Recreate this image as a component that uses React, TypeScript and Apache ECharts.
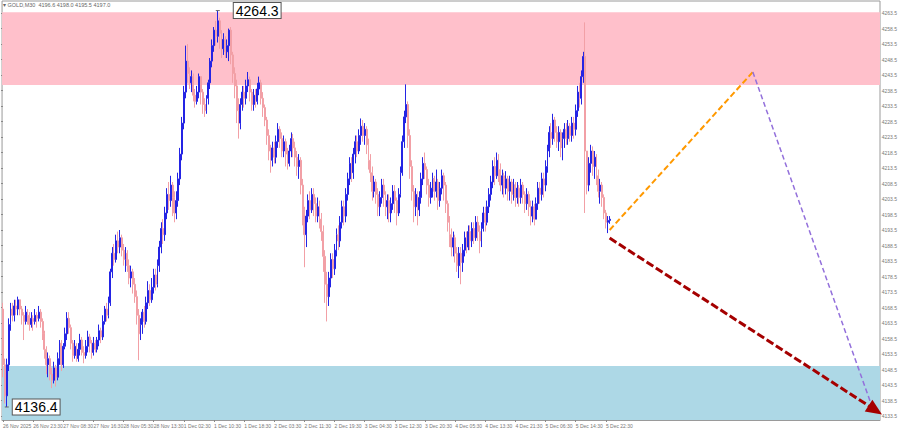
import React, { useEffect, useRef } from 'react';
import * as echarts from 'echarts';

// ---- data (GOLD, M30) ----
const firstOpen = 4168;
const closes = [
  4150, 4140, 4150, 4163, 4168, 4166, 4169, 4168, 4171, 4168,
  4166, 4164, 4167, 4166, 4163, 4165, 4164, 4166, 4165, 4167,
  4164, 4160, 4155, 4150, 4152, 4147, 4145, 4149, 4146, 4152,
  4157, 4150, 4156, 4160, 4165, 4162, 4157, 4153, 4156, 4152,
  4155, 4158, 4154, 4153, 4156, 4159, 4157, 4154, 4157, 4155,
  4158, 4161, 4159, 4164, 4168, 4166, 4170, 4180, 4186, 4184,
  4190, 4188, 4191, 4187, 4184, 4186, 4182, 4178, 4180, 4176,
  4172, 4166, 4160, 4163, 4167, 4164, 4170, 4174, 4171, 4175,
  4179, 4176, 4182, 4188, 4194, 4192, 4199, 4205, 4203, 4208,
  4204, 4199, 4203, 4210, 4218, 4228, 4238, 4248, 4244, 4241,
  4243, 4237, 4235, 4238, 4243, 4238, 4234, 4232, 4236, 4241,
  4248, 4253, 4258, 4256, 4261, 4257, 4252, 4255, 4251, 4253,
  4258, 4250, 4244, 4240, 4232, 4228, 4234, 4238, 4236, 4240,
  4242, 4238, 4234, 4237, 4235, 4239, 4241, 4236, 4233, 4229,
  4224, 4219, 4216, 4220, 4217, 4222, 4226, 4223, 4219, 4222,
  4218, 4215, 4219, 4223, 4220, 4217, 4214, 4216, 4208, 4200,
  4192, 4198, 4203, 4200, 4205, 4202, 4198, 4201, 4197, 4193,
  4185, 4176, 4172, 4178, 4184, 4181, 4187, 4192, 4190, 4196,
  4201, 4198, 4205, 4210, 4215, 4212, 4218, 4222, 4219, 4224,
  4227, 4224, 4226, 4221, 4216, 4212, 4206, 4209, 4205, 4201,
  4204, 4208, 4205, 4201, 4203, 4199, 4202, 4206, 4203, 4199,
  4205, 4212, 4222, 4230, 4234, 4224, 4214, 4206, 4201, 4205,
  4200, 4204, 4210, 4215, 4213, 4208, 4204, 4207, 4210, 4206,
  4209, 4203, 4207, 4211, 4208, 4202, 4196, 4192, 4188, 4191,
  4186, 4182, 4186, 4183, 4187, 4191, 4188, 4193, 4190, 4194,
  4191, 4196, 4193, 4190, 4194, 4199, 4196, 4201, 4205, 4209,
  4214, 4211, 4216, 4213, 4208, 4211, 4207, 4210, 4206, 4209,
  4205, 4208, 4204, 4207, 4204, 4208, 4205, 4202, 4205, 4201,
  4198, 4201, 4197, 4202, 4207, 4205, 4210, 4208, 4214, 4219,
  4225, 4223, 4229, 4225, 4222, 4225, 4220, 4223, 4226, 4223,
  4227, 4224, 4228, 4226, 4232, 4238, 4236, 4243, 4249.5, 4219,
  4208, 4215, 4219, 4214, 4217, 4211, 4206, 4208, 4204, 4199,
  4196, 4196.6, 4197.0,
];
const highs = [
  4170, 4152, 4152, 4165, 4170, 4170, 4171, 4171, 4172, 4171,
  4169, 4167, 4169, 4168, 4167, 4167, 4166, 4168, 4167, 4169,
  4168, 4165, 4161, 4156, 4154, 4153, 4149, 4151, 4150, 4154,
  4158, 4158, 4157, 4162, 4167, 4167, 4163, 4158, 4158, 4157,
  4157, 4160, 4159, 4156, 4158, 4161, 4160, 4158, 4159, 4158,
  4159, 4163, 4162, 4166, 4169, 4170, 4172, 4181, 4188, 4189,
  4192, 4193, 4193.5, 4192, 4189, 4188, 4187, 4184, 4182, 4181,
  4178, 4174, 4168, 4165, 4168, 4169, 4172, 4177, 4176, 4178,
  4181, 4181, 4184, 4190, 4196, 4197, 4201, 4207, 4209, 4211,
  4209, 4206, 4206, 4212, 4220, 4230, 4240, 4253, 4253.5, 4246,
  4245, 4244, 4239, 4240, 4244, 4243, 4239, 4236, 4237, 4242,
  4249, 4255, 4259, 4261, 4264.3, 4262, 4258, 4257, 4256, 4255,
  4258.5, 4259, 4251, 4246, 4242, 4236, 4236, 4240, 4240, 4242,
  4244.5, 4243, 4239, 4239, 4239, 4241, 4243, 4242, 4238, 4234,
  4230, 4226, 4221, 4222, 4222, 4224, 4228, 4227, 4225, 4224,
  4223, 4220, 4221, 4225, 4224.5, 4222, 4219, 4218, 4217, 4210,
  4201, 4200, 4205, 4206, 4207, 4207, 4204, 4204, 4203, 4199,
  4195, 4187, 4180, 4180, 4186, 4186, 4189, 4194, 4195, 4198,
  4203, 4203, 4207, 4212, 4217, 4217, 4220, 4224, 4224, 4226,
  4229.5, 4229, 4228, 4227, 4223, 4218, 4214, 4211, 4210, 4207,
  4206, 4210, 4210, 4206, 4205, 4205, 4204, 4208, 4208, 4204,
  4207, 4214, 4224, 4232, 4240.5, 4235, 4226, 4216, 4208, 4207,
  4206, 4206, 4212, 4217, 4218.5, 4214, 4210, 4209, 4212, 4211,
  4213, 4210, 4209, 4213, 4212, 4209, 4203, 4198, 4194, 4193,
  4192, 4188, 4188, 4188, 4189, 4193, 4193, 4195, 4195, 4196,
  4196, 4198, 4198, 4195, 4196, 4201, 4201, 4203, 4207, 4211,
  4216, 4217, 4218.5, 4218, 4215, 4213, 4212, 4212.5, 4211, 4211,
  4210, 4210, 4209, 4209, 4208, 4210, 4209, 4206, 4207, 4206,
  4203, 4203, 4202, 4204, 4209, 4209, 4212, 4212, 4216, 4221,
  4227, 4228, 4231, 4230, 4227, 4227, 4226, 4225, 4228, 4228,
  4229, 4228, 4230, 4230, 4234, 4240, 4241, 4245, 4251, 4260.5,
  4218, 4217, 4221, 4220.5, 4219, 4218, 4213, 4210, 4209, 4205,
  4200, 4198, 4198.0,
];
const lows = [
  4146, 4137.5, 4136.4, 4148, 4161, 4164, 4164, 4166, 4166, 4166,
  4163, 4158, 4163, 4163, 4161, 4162, 4161, 4163, 4162, 4164,
  4162, 4158, 4152, 4147, 4146, 4145, 4142.5, 4144, 4143, 4145,
  4150, 4148, 4149, 4155, 4158, 4160, 4155, 4151, 4152, 4151,
  4151, 4153, 4153, 4150.5, 4152, 4154, 4154, 4152, 4153, 4154,
  4154, 4156, 4157, 4158, 4163, 4164, 4165, 4169, 4178, 4182,
  4183, 4186, 4186, 4185, 4182, 4180, 4180, 4176, 4175, 4173,
  4170, 4163, 4151.5, 4158, 4160, 4162, 4163, 4168, 4169, 4170,
  4173, 4174, 4175, 4180, 4186, 4189, 4190, 4197, 4200, 4201,
  4198, 4196, 4197, 4201, 4208, 4216, 4226, 4236, 4241, 4239,
  4238, 4235, 4233, 4234, 4236, 4234, 4231, 4230, 4231, 4234,
  4239, 4246, 4251, 4253, 4254, 4252, 4249, 4250, 4249, 4249,
  4248, 4247, 4241, 4236, 4228, 4223, 4226, 4232, 4233, 4234,
  4238, 4235, 4232, 4232, 4233, 4234, 4237, 4234, 4230, 4227,
  4221, 4216, 4212, 4214, 4215, 4215, 4220, 4220, 4217, 4217,
  4214, 4213, 4214, 4217, 4217, 4214, 4211, 4210, 4205, 4195,
  4181.5, 4188, 4196, 4197, 4199, 4198, 4196, 4196, 4194, 4190,
  4180, 4170, 4164, 4169, 4175, 4178, 4179, 4185, 4187, 4188,
  4194, 4195, 4196, 4203, 4208, 4209, 4210, 4215, 4217, 4218,
  4221, 4222, 4221, 4218, 4213, 4209, 4203, 4204, 4202, 4198,
  4198, 4202, 4201, 4198, 4197, 4196, 4196, 4200, 4199, 4195,
  4198, 4204, 4211, 4220, 4228, 4220, 4210, 4203, 4196, 4198,
  4195, 4198, 4202, 4208, 4210, 4205, 4201, 4202, 4204, 4203,
  4204, 4200, 4201, 4205, 4203, 4199, 4193, 4188, 4185, 4185,
  4183, 4180, 4178, 4176, 4180, 4185, 4186, 4187, 4187, 4188,
  4189, 4190, 4190, 4186, 4188, 4193, 4193, 4195, 4199, 4203,
  4207, 4208, 4210, 4209, 4206, 4205, 4204, 4205, 4203, 4203,
  4202, 4203, 4201, 4202, 4201, 4202, 4202, 4199, 4200, 4198,
  4195, 4196, 4195, 4197, 4200, 4202, 4203, 4204, 4206, 4212,
  4217, 4220, 4221, 4222, 4220, 4219, 4217, 4216, 4220, 4221,
  4221, 4222, 4222, 4223, 4224, 4230, 4233, 4234, 4241, 4199,
  4205, 4206, 4212, 4211, 4210, 4208, 4204, 4202, 4201, 4197,
  4194, 4192.5, 4195.5,
];
const timeLabels = [
  '26 Nov 2025', '26 Nov 23:30', '27 Nov 08:30', '27 Nov 16:30', '28 Nov 05:30',
  '28 Nov 13:30', '1 Dec 02:30', '1 Dec 10:30', '1 Dec 18:30', '2 Dec 03:30',
  '2 Dec 11:30', '2 Dec 19:30', '3 Dec 04:30', '3 Dec 12:30', '3 Dec 20:30',
  '4 Dec 05:30', '4 Dec 13:30', '4 Dec 21:30', '5 Dec 06:30', '5 Dec 14:30',
  '5 Dec 22:30',
];
const labelStep = 16;
const totalSlots = 466;
const priceMin = 4132.2;
const priceMax = 4267.4;
const tickMin = 4133.5;
const tickMax = 4263.5;
const tickStep = 5;
const resistanceZone = [4263.8, 4240.3];
const supportZone = [4149.6, 4132.2];
const highMark = { index: 114, price: 4264.3 };
const lowMark = { index: 2, price: 4136.4 };
const orangePath = [[322, 4193.5], [398, 4244.5]];
const purplePath = [[398, 4244.5], [461, 4137.0]];
const redPath = [[322, 4190.9], [463, 4135.4]];

const BULL = '#2424E4';
const BEAR = '#F2A0A6';
const FONT = 'Liberation Sans, Arial, sans-serif';

function buildOption() {
  const categories = Array.from({ length: totalSlots }, (_, i) => String(i));
  const candles = closes.map((c, i) => {
    const o = i === 0 ? firstOpen : closes[i - 1];
    return [o, c, lows[i], highs[i]];
  });
  const last = candles[candles.length - 1];
  const titleText = `\u25BE GOLD,M30  ${last[0].toFixed(1)} ${last[3].toFixed(1)} ${last[2].toFixed(1)} ${last[1].toFixed(1)}`;
  const isLabelIdx = (i: number) => i % labelStep === 0 && i / labelStep < timeLabels.length;

  const boxLabel = (text: string, distance: number) => ({
    show: true,
    position: 'right',
    distance,
    formatter: text,
    fontSize: 14,
    fontFamily: FONT,
    color: '#000',
    backgroundColor: '#fff',
    borderColor: '#555',
    borderWidth: 1,
    padding: [1, 2, 0, 2],
  });

  return {
    animation: false,
    backgroundColor: '#ffffff',
    graphic: [
      {
        type: 'text',
        left: 3,
        top: 2,
        z: 10,
        style: { text: titleText, fontSize: 5.5, fill: '#666', fontFamily: FONT },
      },
    ],
    grid: [
      { left: 1, right: 20, top: 1, bottom: 10, show: true, borderColor: '#9a9a9a', borderWidth: 1 },
      { left: 1, right: 20, top: 13, bottom: 14, show: false },
    ],
    xAxis: [
      {
        type: 'category',
        gridIndex: 0,
        data: categories,
        boundaryGap: true,
        axisLine: { show: true, lineStyle: { color: '#9a9a9a' } },
        axisTick: {
          show: true,
          alignWithLabel: true,
          interval: (i: number) => isLabelIdx(i),
          length: 2,
          lineStyle: { color: '#888' },
        },
        axisLabel: {
          show: true,
          showMinLabel: true,
          interval: (i: number) => isLabelIdx(i),
          formatter: (_v: string, i: number) => (isLabelIdx(i) ? timeLabels[i / labelStep] : ''),
          fontSize: 5,
          fontFamily: FONT,
          color: '#777',
          align: 'left',
          margin: 3,
        },
        splitLine: { show: false },
      },
      { type: 'value', gridIndex: 1, show: false, min: 0, max: 1 },
    ],
    yAxis: [
      {
        type: 'value',
        gridIndex: 0,
        position: 'right',
        min: priceMin,
        max: priceMax,
        axisLabel: { show: false },
        axisTick: { show: false },
        axisLine: { show: false },
        splitLine: { show: false },
      },
      {
        type: 'value',
        gridIndex: 1,
        position: 'right',
        min: tickMin,
        max: tickMax,
        interval: tickStep,
        axisLine: { show: false },
        axisTick: { show: true, length: 2, lineStyle: { color: '#888' } },
        axisLabel: {
          fontSize: 5,
          fontFamily: FONT,
          color: '#777',
          margin: 3,
          formatter: (v: number) => v.toFixed(1),
        },
        splitLine: { show: false },
      },
    ],
    series: [
      {
        type: 'line',
        xAxisIndex: 0,
        yAxisIndex: 0,
        data: [],
        z: 1,
        silent: true,
        markArea: {
          silent: true,
          data: [
            [{ yAxis: resistanceZone[0], itemStyle: { color: '#FFC0CB' } }, { yAxis: resistanceZone[1] }],
            [{ yAxis: supportZone[0], itemStyle: { color: '#ADD8E6' } }, { yAxis: supportZone[1] }],
          ],
        },
      },
      {
        type: 'candlestick',
        xAxisIndex: 0,
        yAxisIndex: 0,
        data: candles,
        z: 3,
        barWidth: 1.4,
        clip: false,
        itemStyle: {
          color: BULL,
          color0: BEAR,
          borderColor: BULL,
          borderColor0: BEAR,
          borderWidth: 1,
        },
        markPoint: {
          silent: true,
          symbol: 'rect',
          symbolSize: [4, 1],
          itemStyle: { color: '#666' },
          data: [
            { coord: [highMark.index, highMark.price], label: boxLabel(highMark.price.toFixed(1), 14) },
            { coord: [lowMark.index, lowMark.price], label: boxLabel(lowMark.price.toFixed(1), 4) },
          ],
        },
      },
      {
        type: 'line',
        xAxisIndex: 0,
        yAxisIndex: 0,
        data: [],
        z: 5,
        silent: true,
        markLine: {
          silent: true,
          symbol: ['none', 'none'],
          label: { show: false },
          data: [
            [
              { coord: orangePath[0], lineStyle: { color: '#FF9900', width: 2, type: [6, 3] } },
              { coord: orangePath[1] },
            ],
            [
              { coord: purplePath[0], lineStyle: { color: '#9370DB', width: 1.5, type: [5, 3] } },
              { coord: purplePath[1] },
            ],
            [
              { coord: redPath[0], lineStyle: { color: '#A50000', width: 3, type: [8, 3] } },
              { coord: redPath[1], symbol: 'triangle', symbolSize: [14, 16], itemStyle: { color: '#CC0000' } },
            ],
            {
              yAxis: last[1],
              lineStyle: { opacity: 0 },
              label: {
                show: true,
                position: 'end',
                distance: 1,
                formatter: last[1].toFixed(1),
                fontSize: 5,
                fontFamily: FONT,
                color: '#fff',
                backgroundColor: '#333',
                padding: [1, 1],
              },
            },
          ],
        },
      },
    ],
  };
}

export default function App() {
  const ref = useRef<HTMLDivElement>(null);
  useEffect(() => {
    if (!ref.current) return;
    const chart = echarts.init(ref.current, null, { renderer: 'svg' });
    chart.setOption(buildOption() as any);
    return () => chart.dispose();
  }, []);
  return (
    <div
      ref={ref}
      style={{ position: 'fixed', left: 0, top: 0, width: 900, height: 430, background: '#fff' }}
    />
  );
}
